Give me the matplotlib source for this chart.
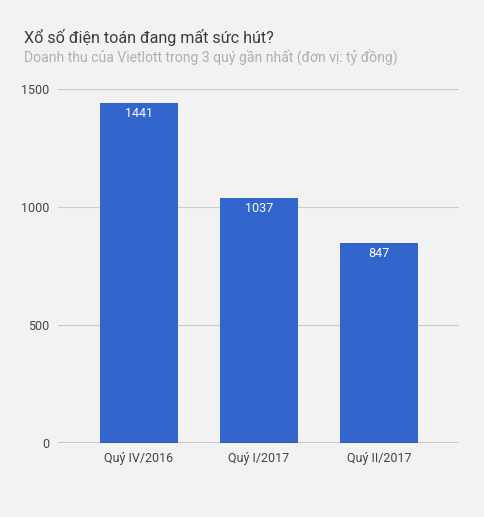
import matplotlib
matplotlib.use('Agg')
import matplotlib.pyplot as plt

quarters = ['Quý IV/2016', 'Quý I/2017', 'Quý II/2017']
revenue = [1441, 1037, 847]
yticks = [0, 500, 1000, 1500]

plt.rcParams['font.family'] = ['Roboto', 'DejaVu Sans']
bg = '#f2f2f2'

fig = plt.figure(figsize=(4.84, 5.17), dpi=100, facecolor=bg)
ax = fig.add_axes([58/484, 74/517, 401/484, 354/517], facecolor=bg)

x = range(len(quarters))
bars = ax.bar(x, revenue, width=0.65, color='#3366cc', zorder=3)
for b, v in zip(bars, revenue):
    ax.annotate(str(v), (b.get_x() + b.get_width()/2, v), xytext=(0, -7.5),
                textcoords='offset points', ha='center', va='center',
                color='white', fontsize=9, zorder=4)

ax.set_xlim(-0.675, 2.667)
ax.set_ylim(0, 1500)
ax.set_yticks(yticks)
ax.set_yticklabels([str(t) for t in yticks])
ax.set_xticks(list(x))
ax.set_xticklabels(quarters)
ax.grid(axis='y', color='#cccccc', linewidth=0.8, zorder=0)
ax.axhline(0, color='#333333', linewidth=1, zorder=5)
for s in ax.spines.values():
    s.set_visible(False)
ax.tick_params(axis='both', length=0, labelsize=9, labelcolor='#444444')
ax.tick_params(axis='y', pad=6)
ax.tick_params(axis='x', pad=6.5)

fig.text(24/484, 1 - 37/517, 'Xổ số điện toán đang mất sức hút?', fontsize=11.6,
         color='#3c3c3c', va='center')
fig.text(24/484, 1 - 57/517, 'Doanh thu của Vietlott trong 3 quý gần nhất (đơn vị: tỷ đồng)',
         fontsize=10.1, color='#b0b0b0', va='center')

fig.savefig('out.png', dpi=100, facecolor=bg)
